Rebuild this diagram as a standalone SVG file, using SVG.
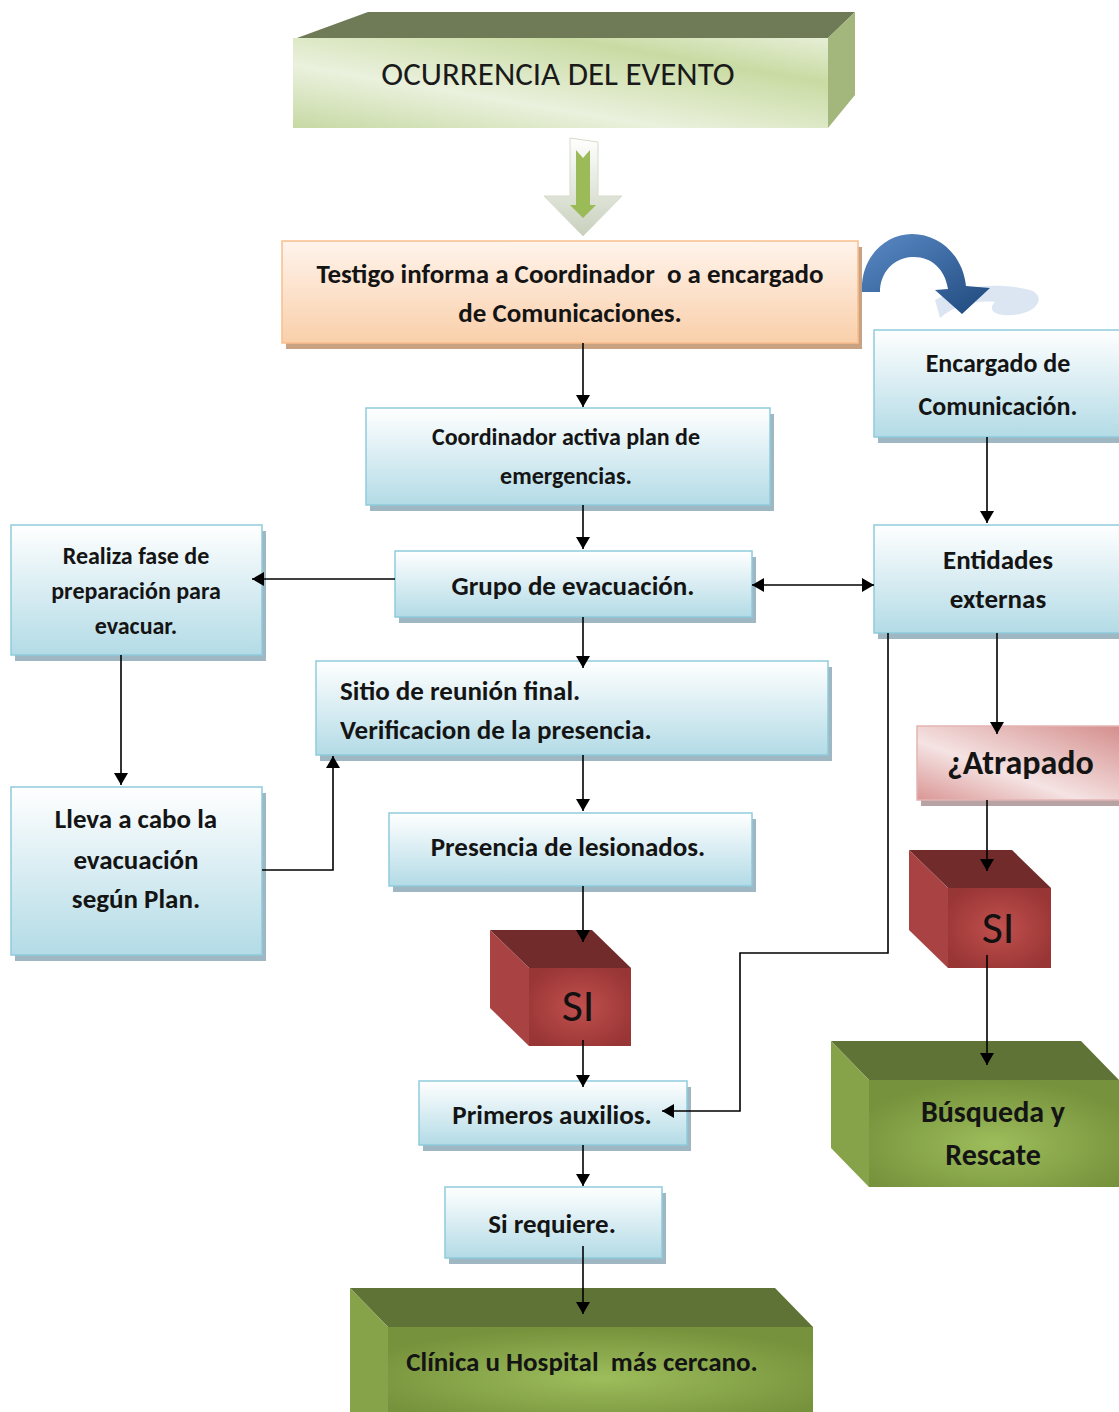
<svg xmlns="http://www.w3.org/2000/svg" width="1119" height="1412" viewBox="0 0 1119 1412">
<defs>
<style>
.t{font-family:Carlito,"Liberation Sans",sans-serif;font-weight:bold;fill:#141414;text-anchor:middle;font-size:27px}
.blue{fill:url(#gBlue);stroke:#8fcbdc;stroke-width:1.5}
.bsh{fill:#9fb7c2}
.ln{stroke:#000;stroke-width:1.6;fill:none}
.ar{marker-end:url(#ah)}
.si{font-family:Carlito,"Liberation Sans",sans-serif;font-size:46px;fill:#111;text-anchor:middle}
</style>
<linearGradient id="gBlue" x1="0" y1="0" x2="0" y2="1"><stop offset="0" stop-color="#ffffff"/><stop offset="1" stop-color="#b3dbe6"/></linearGradient>
<linearGradient id="gOrange" x1="0" y1="0" x2="0" y2="1"><stop offset="0" stop-color="#fff4ec"/><stop offset="1" stop-color="#f9cfaa"/></linearGradient>
<linearGradient id="gTitle" x1="0" y1="1" x2="1" y2="0"><stop offset="0" stop-color="#c7d9a4"/><stop offset="0.35" stop-color="#eaf1dd"/><stop offset="0.75" stop-color="#c9dba3"/><stop offset="1" stop-color="#e6eed6"/></linearGradient>
<linearGradient id="gPink" x1="0" y1="1" x2="1" y2="0"><stop offset="0" stop-color="#d99694"/><stop offset="0.4" stop-color="#f5e3e3"/><stop offset="1" stop-color="#d48e8c"/></linearGradient>
<radialGradient id="gGreen" cx="0.5" cy="0.6" r="0.6"><stop offset="0" stop-color="#9dbd5b"/><stop offset="1" stop-color="#76923c"/></radialGradient>
<radialGradient id="gRed" cx="0.5" cy="0.5" r="0.6"><stop offset="0" stop-color="#c0504d"/><stop offset="1" stop-color="#983535"/></radialGradient>
<linearGradient id="gArc" x1="0" y1="0" x2="1" y2="1"><stop offset="0" stop-color="#5a8ac6"/><stop offset="1" stop-color="#1f497d"/></linearGradient>
<linearGradient id="gDown" x1="0" y1="0" x2="0" y2="1"><stop offset="0" stop-color="#ffffff"/><stop offset="1" stop-color="#c8d0bc"/></linearGradient>
<marker id="ah" viewBox="0 0 12 14" refX="12" refY="7" markerWidth="12" markerHeight="14" markerUnits="userSpaceOnUse" orient="auto"><path d="M0,0 L12,7 L0,14 Z" fill="#000"/></marker>
<marker id="ahs" viewBox="0 0 12 14" refX="12" refY="7" markerWidth="12" markerHeight="14" markerUnits="userSpaceOnUse" orient="auto-start-reverse"><path d="M0,0 L12,7 L0,14 Z" fill="#000"/></marker>
</defs>

<g id="n-ocurrencia">
<polygon points="297,38 368,12 855,12 828,38" fill="#6f7b56"/>
<polygon points="828,38 855,12 855,95 828,128" fill="#a3b77d"/>
<rect x="293" y="38" width="535" height="90" fill="url(#gTitle)"/>
<text x="558" y="85" style="font-family:Carlito,'Liberation Sans',sans-serif;font-size:33px;fill:#1a1a1a;text-anchor:middle">OCURRENCIA DEL EVENTO</text>
</g>

<g id="n-testigo">
<rect x="286" y="247" width="576" height="102" fill="#c9a281"/>
<rect x="282" y="241" width="576" height="102" fill="url(#gOrange)" stroke="#f9be8c" stroke-width="1.5"/>
<text class="t" xml:space="preserve"><tspan x="570" y="283">Testigo informa a Coordinador  o a encargado</tspan><tspan x="570" y="322">de Comunicaciones.</tspan></text>
</g>

<g id="n-encargado">
<rect class="bsh" x="878" y="336" width="245" height="107"/>
<rect class="blue" x="874" y="330" width="250" height="107"/>
<text class="t" style="font-size:26px"><tspan x="998" y="372">Encargado de</tspan><tspan x="998" y="415">Comunicación.</tspan></text>
</g>

<g id="n-coordinador">
<rect class="bsh" x="370" y="414" width="404" height="97"/>
<rect class="blue" x="366" y="408" width="404" height="97"/>
<text class="t" style="font-size:24px"><tspan x="566" y="445">Coordinador activa plan de</tspan><tspan x="566" y="484">emergencias.</tspan></text>
</g>

<g id="n-grupo">
<rect class="bsh" x="399" y="557" width="357" height="66"/>
<rect class="blue" x="395" y="551" width="357" height="66"/>
<text class="t" x="573" y="595">Grupo de evacuación.</text>
</g>

<g id="n-realiza">
<rect class="bsh" x="15" y="531" width="251" height="130"/>
<rect class="blue" x="11" y="525" width="251" height="130"/>
<text class="t" style="font-size:24px"><tspan x="136" y="564">Realiza fase de</tspan><tspan x="136" y="599">preparación para</tspan><tspan x="136" y="634">evacuar.</tspan></text>
</g>

<g id="n-entidades">
<rect class="bsh" x="878" y="531" width="245" height="108"/>
<rect class="blue" x="874" y="525" width="250" height="108"/>
<text class="t"><tspan x="998" y="569">Entidades</tspan><tspan x="998" y="608">externas</tspan></text>
</g>

<g id="n-sitio">
<rect class="bsh" x="320" y="667" width="512" height="94"/>
<rect class="blue" x="316" y="661" width="512" height="94"/>
<text class="t" style="text-anchor:start"><tspan x="340" y="700">Sitio de reunión final.</tspan><tspan x="340" y="739">Verificacion de la presencia.</tspan></text>
</g>

<g id="n-lleva">
<rect class="bsh" x="15" y="793" width="251" height="168"/>
<rect class="blue" x="11" y="787" width="251" height="168"/>
<text class="t"><tspan x="136" y="828">Lleva a cabo la</tspan><tspan x="136" y="869">evacuación</tspan><tspan x="136" y="908">según Plan.</tspan></text>
</g>

<g id="n-presencia">
<rect class="bsh" x="393" y="819" width="363" height="73"/>
<rect class="blue" x="389" y="813" width="363" height="73"/>
<text class="t" x="568" y="856">Presencia de lesionados.</text>
</g>

<g id="n-si1">
<polygon points="490,930 592,930 631,968 529,968" fill="#722b2b"/>
<polygon points="490,930 529,968 529,1046 490,1008" fill="#a94343"/>
<rect x="529" y="968" width="102" height="78" fill="url(#gRed)"/>
<text class="si" x="578" y="1021">SI</text>
</g>

<g id="n-primeros">
<rect class="bsh" x="423" y="1087" width="268" height="64"/>
<rect class="blue" x="419" y="1081" width="268" height="64"/>
<text class="t" x="552" y="1124">Primeros auxilios.</text>
</g>

<g id="n-sirequiere">
<rect class="bsh" x="449" y="1193" width="217" height="71"/>
<rect class="blue" x="445" y="1187" width="217" height="71"/>
<text class="t" x="552" y="1233">Si requiere.</text>
</g>

<g id="n-clinica">
<polygon points="350,1288 775,1288 813,1327 388,1327" fill="#5f7336"/>
<polygon points="350,1288 388,1327 388,1412 350,1412" fill="#86a34a"/>
<rect x="388" y="1327" width="425" height="85" fill="url(#gGreen)"/>
<text class="t" x="582" y="1371" xml:space="preserve">Clínica u Hospital  más cercano.</text>
</g>

<g id="n-atrapado">
<rect x="921" y="732" width="202" height="74" fill="#b7a3a3"/>
<rect x="917" y="726" width="204" height="74" fill="url(#gPink)" stroke="#e3b4b3" stroke-width="1.5"/>
<text class="t" style="font-size:34px;text-anchor:start" x="947" y="774">¿Atrapado</text>
</g>

<g id="n-si2">
<polygon points="909,850 1012,850 1051,888 948,888" fill="#722b2b"/>
<polygon points="909,850 948,888 948,968 909,930" fill="#a94343"/>
<rect x="948" y="888" width="103" height="80" fill="url(#gRed)"/>
<text class="si" x="998" y="943">SI</text>
</g>

<g id="n-busqueda">
<polygon points="831,1041 1081,1041 1119,1080 869,1080" fill="#5f7336"/>
<polygon points="831,1041 869,1080 869,1187 831,1148" fill="#86a34a"/>
<rect x="869" y="1080" width="250" height="107" fill="url(#gGreen)"/>
<text class="t" style="font-size:30px"><tspan x="993" y="1122">Búsqueda y</tspan><tspan x="993" y="1165">Rescate</tspan></text>
</g>

<g id="connectors">
<line class="ln ar" x1="583" y1="343" x2="583" y2="407"/>
<line class="ln ar" x1="583" y1="505" x2="583" y2="549"/>
<line class="ln ar" x1="395" y1="579" x2="252" y2="579"/>
<line class="ln" x1="752" y1="585" x2="874" y2="585" marker-start="url(#ahs)" marker-end="url(#ah)"/>
<line class="ln ar" x1="987" y1="437" x2="987" y2="523"/>
<line class="ln ar" x1="583" y1="617" x2="583" y2="668"/>
<line class="ln ar" x1="121" y1="655" x2="121" y2="785"/>
<polyline class="ln ar" points="262,870 333,870 333,756"/>
<line class="ln ar" x1="583" y1="755" x2="583" y2="811"/>
<line class="ln ar" x1="583" y1="886" x2="583" y2="942"/>
<line class="ln ar" x1="583" y1="1040" x2="583" y2="1087"/>
<polyline class="ln ar" points="888,633 888,953 740,953 740,1111 662,1111"/>
<line class="ln ar" x1="583" y1="1145" x2="583" y2="1186"/>
<line class="ln ar" x1="583" y1="1246" x2="583" y2="1314"/>
<line class="ln ar" x1="997" y1="633" x2="997" y2="734"/>
<line class="ln ar" x1="987" y1="800" x2="987" y2="871"/>
<line class="ln ar" x1="987" y1="955" x2="987" y2="1065"/>
<g id="curved-arrow">
<path d="M935,300 C960,285 1000,282 1030,290 C1045,295 1040,310 1020,314 C1000,318 985,312 995,302 C975,300 955,305 940,318 Z" fill="#d3e0f0" opacity="0.8"/>
<path d="M862,292 C860,258 885,234 912,234 C940,234 963,256 966,286 L990,288 L962,314 L935,290 L948,289 C945,268 930,256 912,257 C893,258 880,273 880,292 Z" fill="url(#gArc)"/>
</g>
<g id="down-arrow">
<path d="M570,138 L598,142 L598,196 L622,196 L583,236 L544,196 L570,196 Z" fill="url(#gDown)" stroke="#d6dccb" stroke-width="1"/>
<path d="M576,150 L583,158 L590,150 L590,205 L596,205 L583,218 L570,205 L576,205 Z" fill="#9bbb59"/>
</g>
</g>
</svg>
